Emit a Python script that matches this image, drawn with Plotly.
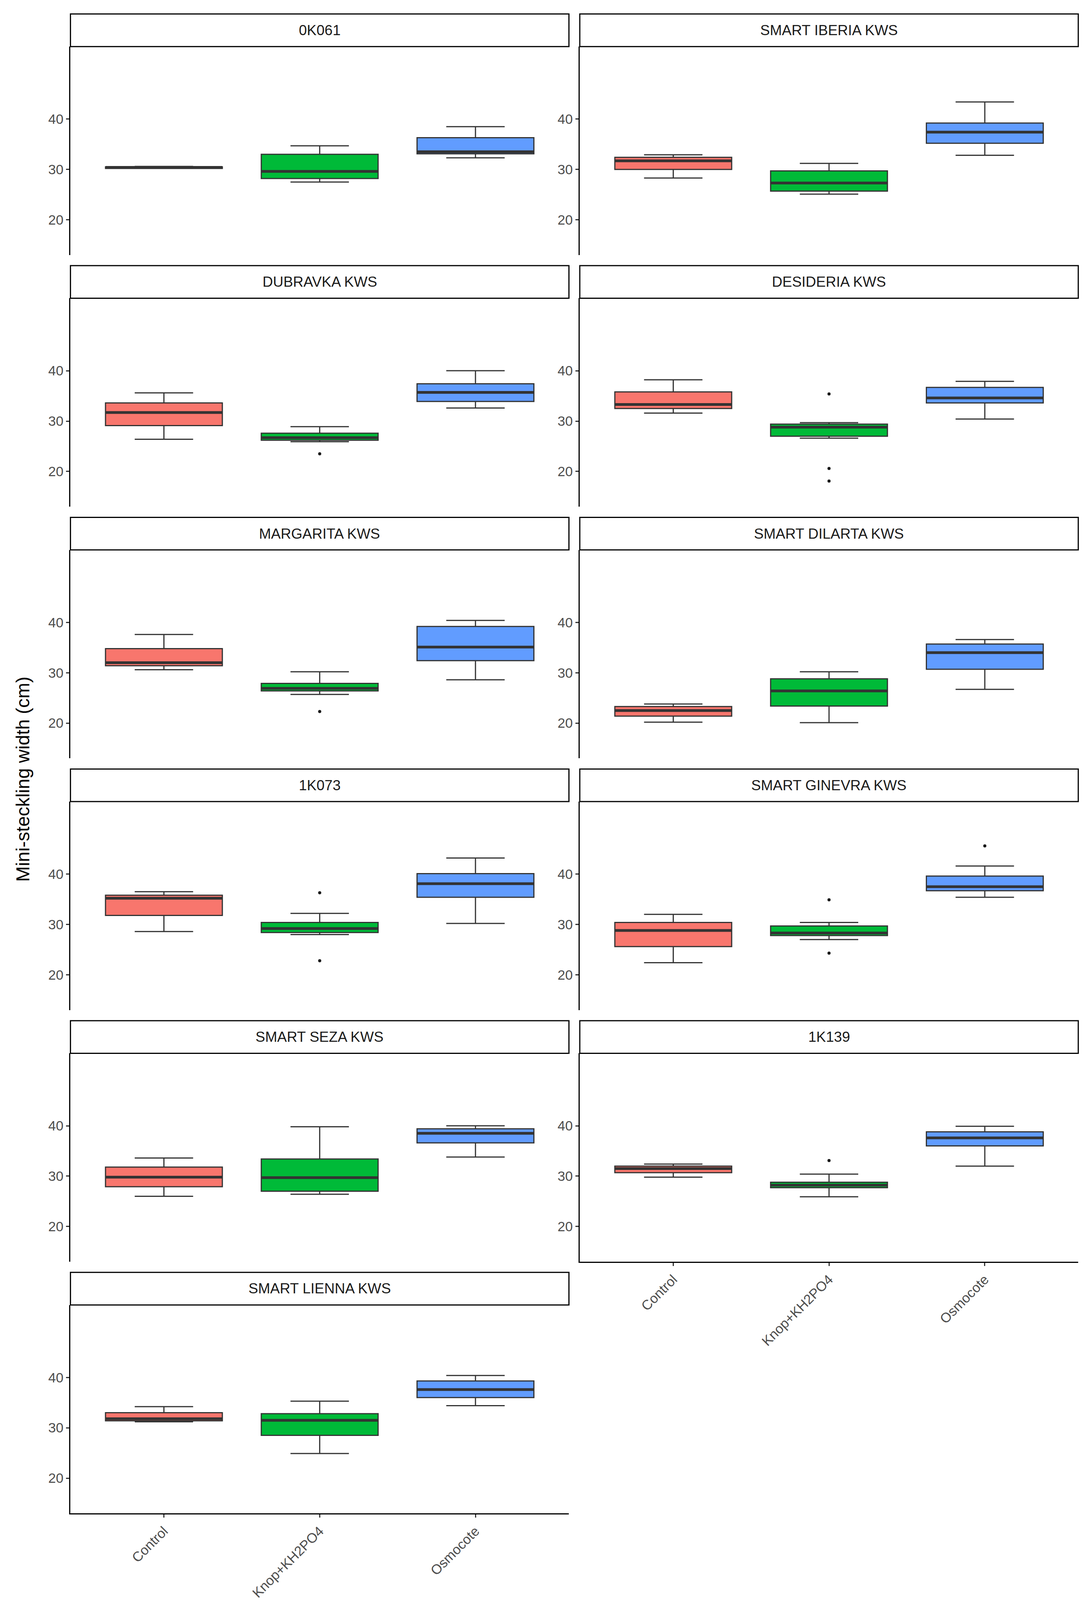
import plotly.graph_objects as go

W, H = 2780, 4350

nutrition = ["Control", "Knop+KH2PO4", "Osmocote"]
colors = ["#F8766D", "#00BA38", "#619CFF"]

varieties = ["0K061", "SMART IBERIA KWS", "DUBRAVKA KWS", "DESIDERIA KWS",
             "MARGARITA KWS", "SMART DILARTA KWS", "1K073", "SMART GINEVRA KWS",
             "SMART SEZA KWS", "1K139", "SMART LIENNA KWS"]

# per variety, per nutrition: [lower whisker, q1, median, q3, upper whisker]
stats = {
    "0K061": [[30.2, 30.2, 30.4, 30.5, 30.6], [27.5, 28.2, 29.6, 33.0, 34.7], [32.3, 33.1, 33.5, 36.3, 38.5]],
    "SMART IBERIA KWS": [[28.3, 30.0, 31.7, 32.4, 32.9], [25.1, 25.7, 27.3, 29.7, 31.2], [32.8, 35.2, 37.4, 39.2, 43.4]],
    "DUBRAVKA KWS": [[26.4, 29.1, 31.7, 33.6, 35.6], [25.9, 26.2, 26.7, 27.6, 28.9], [32.6, 33.9, 35.7, 37.4, 40.0]],
    "DESIDERIA KWS": [[31.6, 32.5, 33.3, 35.8, 38.2], [26.6, 27.0, 28.8, 29.4, 29.7], [30.4, 33.6, 34.6, 36.7, 37.9]],
    "MARGARITA KWS": [[30.6, 31.4, 32.0, 34.8, 37.6], [25.7, 26.4, 26.9, 27.9, 30.2], [28.6, 32.4, 35.1, 39.2, 40.4]],
    "SMART DILARTA KWS": [[20.2, 21.4, 22.5, 23.3, 23.8], [20.1, 23.4, 26.4, 28.8, 30.2], [26.7, 30.7, 34.0, 35.7, 36.6]],
    "1K073": [[28.6, 31.8, 35.2, 35.8, 36.5], [28.0, 28.4, 29.2, 30.4, 32.2], [30.2, 35.4, 38.1, 40.1, 43.2]],
    "SMART GINEVRA KWS": [[22.4, 25.6, 28.8, 30.4, 32.0], [27.0, 27.8, 28.3, 29.7, 30.4], [35.4, 36.7, 37.5, 39.6, 41.6]],
    "SMART SEZA KWS": [[26.0, 27.9, 29.8, 31.8, 33.6], [26.4, 27.0, 29.7, 33.4, 39.8], [33.8, 36.6, 38.5, 39.4, 40.0]],
    "1K139": [[29.8, 30.7, 31.5, 32.0, 32.4], [25.9, 27.7, 28.2, 28.8, 30.4], [32.0, 36.0, 37.6, 38.8, 39.9]],
    "SMART LIENNA KWS": [[31.2, 31.4, 31.8, 33.0, 34.2], [24.9, 28.5, 31.5, 32.8, 35.3], [34.4, 36.0, 37.6, 39.3, 40.4]],
}

outliers = {
    "DUBRAVKA KWS": [[], [23.5], []],
    "DESIDERIA KWS": [[], [35.4, 20.6, 18.1], []],
    "MARGARITA KWS": [[], [22.3], []],
    "1K073": [[], [36.3, 22.8], []],
    "SMART GINEVRA KWS": [[], [34.9, 24.3], [45.6]],
    "1K139": [[], [33.1], []],
}

BW = 0.75
fig = go.Figure()
layout = {}
shapes, annotations = [], []
font = "Liberation Sans, Arial, sans-serif"
ytop = 1565.0


def fy(py):
    return 1 - py / ytop


for k, v in enumerate(varieties):
    row, col = k // 2, k % 2
    x0, x1 = (62, 521) if col == 0 else (531, 990)
    top = 10 + 231.8 * row
    sb = top + 30
    pb = top + 222
    n = k + 1
    xa, ya = ("x" if n == 1 else f"x{n}"), ("y" if n == 1 else f"y{n}")
    bottom = v in ("1K139", "SMART LIENNA KWS")
    layout["xaxis" if n == 1 else f"xaxis{n}"] = dict(
        domain=[x0 / 1000, x1 / 1000], anchor=ya, range=[-0.6, 2.6],
        tickvals=[0, 1, 2], ticktext=nutrition,
        showline=bottom, linecolor="black", linewidth=3,
        showticklabels=bottom, ticks="outside" if bottom else "",
        ticklen=8, tickwidth=3, tickcolor="#333333", tickangle=-45,
        tickfont=dict(size=35, color="#4D4D4D", family=font), showgrid=False, zeroline=False)
    layout["yaxis" if n == 1 else f"yaxis{n}"] = dict(
        domain=[fy(pb), fy(sb)], anchor=xa, range=[13, 54.4],
        tickvals=[20, 30, 40], showline=True, linecolor="black", linewidth=3,
        ticks="outside", ticklen=8, tickwidth=3, tickcolor="#333333",
        tickfont=dict(size=35, color="#4D4D4D", family=font), showgrid=False, zeroline=False)
    shapes.append(dict(type="rect", xref="paper", yref="paper",
                       x0=x0 / 1000, x1=x1 / 1000, y0=fy(sb), y1=fy(top),
                       line=dict(color="black", width=3), fillcolor="white"))
    annotations.append(dict(x=(x0 + x1) / 2000, y=fy((top + sb) / 2), xref="paper", yref="paper",
                            xanchor="center", yanchor="middle",
                            text=v, showarrow=False, font=dict(size=37, color="#1A1A1A", family=font)))
    for j, nut in enumerate(nutrition):
        lo, q1, med, q3, hi = stats[v][j]
        fig.add_trace(go.Box(
            x=[j], q1=[q1], median=[med], q3=[q3], lowerfence=[lo], upperfence=[hi],
            width=BW, fillcolor=colors[j], line=dict(color="#333333", width=3),
            name=nut, legendgroup=nut, showlegend=(k == 0), xaxis=xa, yaxis=ya,
            hoverinfo="skip"))
        # thick median bar as in ggplot
        fig.add_trace(go.Scatter(
            x=[j - BW / 2, j + BW / 2], y=[med, med], mode="lines", showlegend=False,
            line=dict(color="#333333", width=7), xaxis=xa, yaxis=ya, hoverinfo="skip"))
        pts = outliers.get(v, [[], [], []])[j]
        if pts:
            fig.add_trace(go.Scatter(
                x=[j] * len(pts), y=pts, mode="markers", showlegend=False,
                marker=dict(color="#1A1A1A", size=8), xaxis=xa, yaxis=ya))

annotations.append(dict(x=0.526, y=fy(1497), xref="paper", yref="paper", text="nutrition",
                        xanchor="center", yanchor="middle",
                        showarrow=False, font=dict(size=48, color="black", family=font)))
annotations.append(dict(x=0.018, y=fy(715), xref="paper", yref="paper", text="Mini-steckling width (cm)",
                        xanchor="center", yanchor="middle",
                        textangle=-90, showarrow=False, font=dict(size=48, color="black", family=font)))

fig.update_layout(
    width=W, height=H, margin=dict(l=0, r=0, t=0, b=0),
    plot_bgcolor="white", paper_bgcolor="white", boxmode="overlay",
    shapes=shapes, annotations=annotations,
    legend=dict(orientation="h", x=0.5, xanchor="center", y=fy(1550), yanchor="middle",
                title=dict(text="nutrition", font=dict(size=40, family=font)),
                font=dict(size=40, color="black", family=font)),
    **layout)

fig.write_html("out.html")
